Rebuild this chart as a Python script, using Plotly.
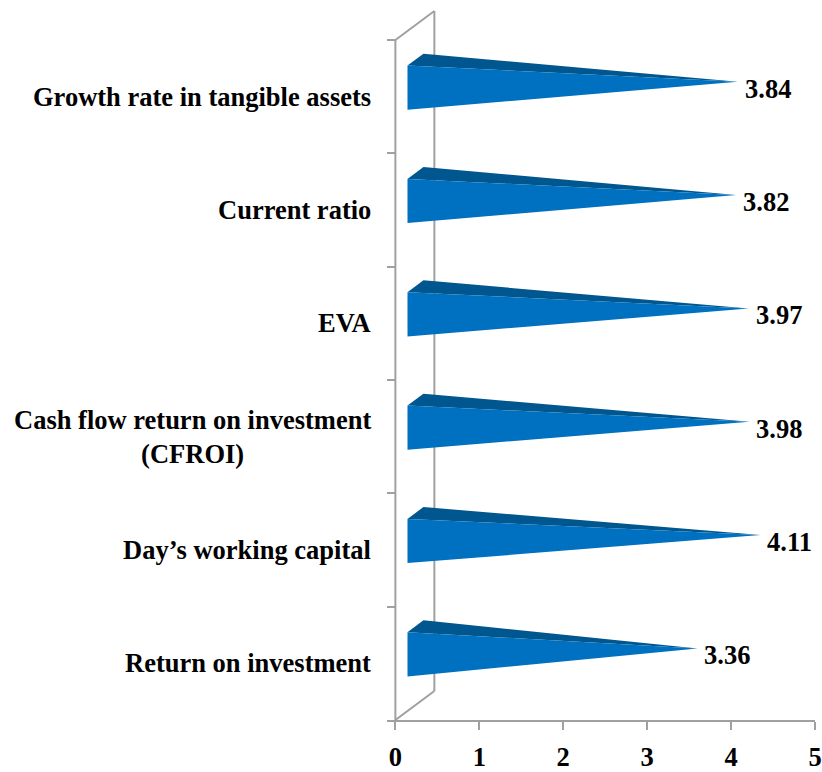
import plotly.graph_objects as go

# ---- data (top to bottom in the chart) ----
categories = [
    "Growth rate in tangible assets",
    "Current ratio",
    "EVA",
    "Cash flow return on investment<br>(CFROI)",
    "Day\u2019s working capital",
    "Return on investment",
]
values = [3.84, 3.82, 3.97, 3.98, 4.11, 3.36]
x_ticks = [0, 1, 2, 3, 4, 5]

# plot bottom-to-top
cats = categories[::-1]
vals = values[::-1]
n = len(cats)

# ---- 3D styling constants (in axis units) ----
DX = 39 / 84.0       # depth offset in x units
DY = 29 / 113.33     # depth offset in y units
D1, D2, ZM = 0.31, 0.72, 0.515
H = 0.39
FRONT = "#0070C0"
TOP = "#00568F"
GRAY = "#A0A0A0"
FONT = dict(family="Liberation Serif, Times New Roman, serif", size=26.5, color="black", weight="bold")

fig = go.Figure()

# frame lines (front axis, back wall, diagonals)
y_lo, y_hi = -0.5, n - 0.5
frame = [
    ([0, 0], [y_lo, y_hi]),
    ([DX, DX], [y_lo + DY, y_hi + DY]),
    ([0, DX], [y_hi, y_hi + DY]),
    ([0, DX], [y_lo, y_lo + DY]),
]
for fx, fy in frame:
    fig.add_trace(go.Scatter(x=fx, y=fy, mode="lines", line=dict(color=GRAY, width=2),
                             hoverinfo="skip", showlegend=False))

annotations = []
for i, (c, v) in enumerate(zip(cats, vals)):
    ax, ay = v + ZM * DX, i + ZM * DY
    # top face
    tx = [D1 * DX, D2 * DX, ax, D1 * DX]
    ty = [i + H / 2 + D1 * DY, i + H / 2 + D2 * DY, ay, i + H / 2 + D1 * DY]
    fig.add_trace(go.Scatter(x=tx, y=ty, mode="lines", fill="toself", fillcolor=TOP,
                             line=dict(width=0, color=TOP), hoverinfo="skip", showlegend=False))
    # front face
    fx = [D1 * DX, D1 * DX, ax, D1 * DX]
    fy = [i + H / 2 + D1 * DY, i - H / 2 + D1 * DY, ay, i + H / 2 + D1 * DY]
    fig.add_trace(go.Scatter(x=fx, y=fy, mode="lines", fill="toself", fillcolor=FRONT,
                             line=dict(width=0, color=FRONT), hoverinfo="skip", showlegend=False))
    # value label
    annotations.append(dict(x=ax, y=ay, xref="x", yref="y", text=f"{v:.2f}", showarrow=False,
                            xanchor="left", yanchor="middle", xshift=5, yshift=-7, font=FONT))
    # category label
    annotations.append(dict(x=0, y=i, xref="x", yref="y", text=c, showarrow=False,
                            xanchor="right", yanchor="middle", align="center", xshift=-22, font=FONT))

fig.update_layout(
    width=822, height=772,
    margin=dict(l=387, r=7, t=6, b=52, autoexpand=False),
    paper_bgcolor="white", plot_bgcolor="white",
    showlegend=False,
    annotations=annotations,
    xaxis=dict(range=[-0.1, 5], tickvals=x_ticks, ticks="outside", ticklen=8, tickwidth=2,
               tickcolor=GRAY, showline=True, linecolor=GRAY, linewidth=2, showgrid=False,
               zeroline=False, tickfont=FONT, ticklabelstandoff=4, fixedrange=True,
               automargin=False),
    yaxis=dict(range=[-0.5, 5.8], tickvals=[k - 0.5 for k in range(n + 1)], ticks="inside",
               ticklen=8, tickwidth=2, tickcolor=GRAY, showticklabels=False, showline=False,
               showgrid=False, zeroline=False, fixedrange=True, automargin=False),
)

fig.write_html("out.html")
